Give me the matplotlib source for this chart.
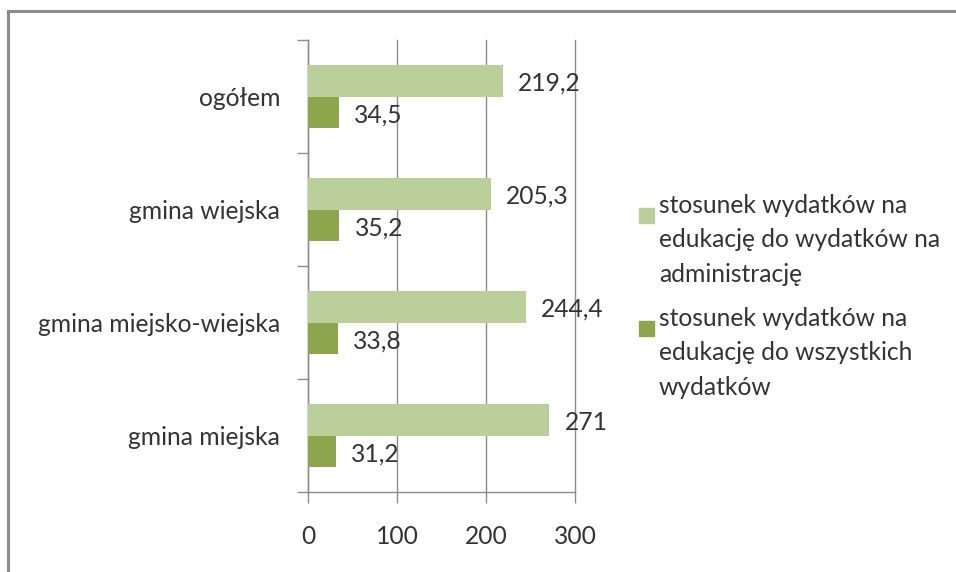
import matplotlib.pyplot as plt
from matplotlib.patches import Rectangle

categories = ['ogółem', 'gmina wiejska', 'gmina miejsko-wiejska', 'gmina miejska']
admin_ratio = [219.2, 205.3, 244.4, 271]
total_ratio = [34.5, 35.2, 33.8, 31.2]
series_labels = [
    'stosunek wydatków na\nedukację do wydatków na\nadministrację',
    'stosunek wydatków na\nedukację do wszystkich\nwydatków',
]
x_ticks = [0, 100, 200, 300]

LIGHT = '#BACF99'
DARK = '#8BA64D'
TEXT = '#333333'
GRID = '#8c8c8c'
FS = 17.7

plt.rcParams['font.family'] = ['Lato', 'DejaVu Sans']
plt.rcParams['font.size'] = FS

W, H = 956, 572
fig = plt.figure(figsize=(W / 100, H / 100), dpi=100)
ax = fig.add_axes([308 / W, 1 - 492 / H, (575 - 308) / W, (492 - 40) / H])

bar_h = 0.28
pos = list(range(len(categories)))
b1 = ax.barh([p - bar_h / 2 for p in pos], admin_ratio, height=bar_h, color=LIGHT, zorder=3)
b2 = ax.barh([p + bar_h / 2 for p in pos], total_ratio, height=bar_h, color=DARK, zorder=3)

for bars, vals in ((b1, admin_ratio), (b2, total_ratio)):
    for rect, v in zip(bars, vals):
        ax.annotate(f'{v:g}'.replace('.', ','),
                    (rect.get_width(), rect.get_y() + rect.get_height() / 2),
                    xytext=(11, -2), textcoords='offset points',
                    ha='left', va='center', color=TEXT, fontsize=FS, zorder=4)

ax.set_xlim(0, 300)
ax.set_ylim(len(categories) - 0.5, -0.5)
ax.set_xticks(x_ticks)
ax.set_xticklabels([str(t) for t in x_ticks])
ax.xaxis.grid(True, color=GRID, linewidth=1, zorder=0)
for gl in ax.xaxis.get_gridlines():
    gl.set_clip_on(False)

ax.set_yticks([p - 0.5 for p in pos] + [len(categories) - 0.5])
ax.set_yticklabels([])
ax.set_yticks(pos, minor=True)
ax.set_yticklabels(categories, minor=True)
ax.tick_params(axis='y', which='major', length=8, color=GRID, width=1)
ax.tick_params(axis='y', which='minor', length=0, pad=20, colors=TEXT, labelsize=FS)
ax.tick_params(axis='x', length=8, color=GRID, width=1, pad=16, labelcolor=TEXT, labelsize=FS)

for side in ('top', 'right'):
    ax.spines[side].set_visible(False)
for side in ('left', 'bottom'):
    ax.spines[side].set_color(GRID)
    ax.spines[side].set_linewidth(1)

# legend drawn by hand so the square sits at the first line, like in Excel
legend_colors = [LIGHT, DARK]
legend_tops = [194, 307]
for label, color, top in zip(series_labels, legend_colors, legend_tops):
    fig.patches.append(Rectangle((639 / W, 1 - (top + 29) / H), 15 / W, 15 / H,
                                 transform=fig.transFigure, color=color))
    fig.text(659 / W, 1 - top / H, label, ha='left', va='top',
             color=TEXT, fontsize=FS, linespacing=1.6)

fig.patches.append(Rectangle((8 / W, -0.1), 1.2, 1.1 - 11 / H, transform=fig.transFigure,
                             fill=False, edgecolor='#8c8c8c', linewidth=2.2))

fig.savefig('out.png', dpi=100)
